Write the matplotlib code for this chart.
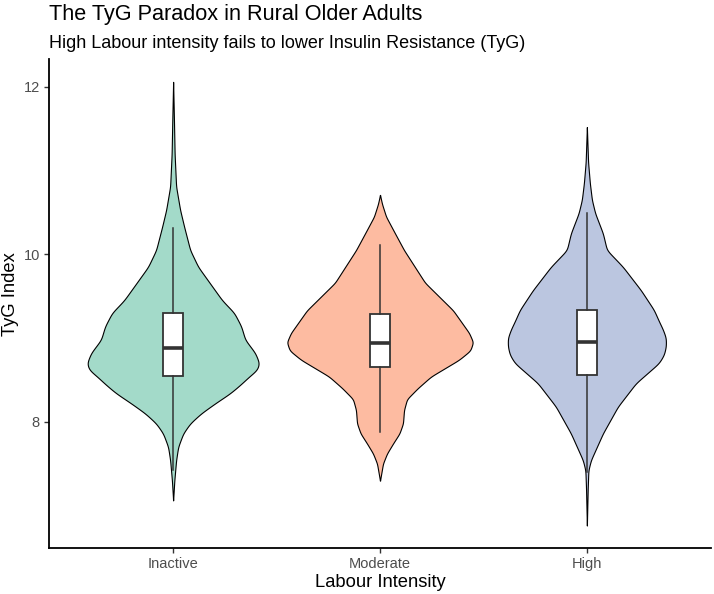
import numpy as np
import matplotlib
matplotlib.use("Agg")
import matplotlib.pyplot as plt

# ---------------- data ----------------
groups = ["Inactive", "Moderate", "High"]
fill_colors = ["#A3DAC9", "#FDBBA1", "#BBC6E0"]

# violin profiles: TyG level and relative density (1 = widest violin)
inactive_levels = [7.06, 7.30, 7.54, 7.70, 7.86, 7.98, 8.10, 8.22, 8.34, 8.44, 8.54, 8.62, 8.70,
                   8.82, 8.98, 9.14, 9.30, 9.45, 9.65, 9.85, 10.05, 10.33, 10.53, 10.81, 11.20,
                   11.60, 12.06]
inactive_density = [0.0, 0.013, 0.032, 0.054, 0.108, 0.183, 0.301, 0.452, 0.613, 0.720, 0.817,
                    0.903, 0.925, 0.882, 0.774, 0.731, 0.656, 0.527, 0.398, 0.269, 0.183,
                    0.118, 0.075, 0.032, 0.016, 0.009, 0.0]

moderate_levels = [7.295, 7.50, 7.62, 7.74, 7.86, 7.98, 8.14, 8.27, 8.40, 8.54, 8.74, 8.85,
                   8.95, 9.06, 9.33, 9.66, 10.05, 10.25, 10.45, 10.60, 10.71]
moderate_density = [0.0, 0.032, 0.075, 0.140, 0.209, 0.247, 0.258, 0.290, 0.405, 0.548, 0.849,
                    0.97, 1.0, 0.957, 0.785, 0.484, 0.258, 0.161, 0.065, 0.022, 0.0]

high_levels = [6.76, 7.20, 7.42, 7.54, 7.86, 8.18, 8.46, 8.70, 8.80, 8.90, 9.00, 9.10, 9.20,
               9.335, 9.57, 9.85, 10.05, 10.25, 10.49, 10.65, 10.85, 11.10, 11.52]
high_density = [0.0, 0.009, 0.016, 0.043, 0.172, 0.333, 0.527, 0.774, 0.828, 0.849, 0.849,
                0.817, 0.774, 0.720, 0.581, 0.387, 0.215, 0.172, 0.089, 0.054, 0.032, 0.013,
                0.0]

# box plot statistics
box_q1 = [8.546, 8.657, 8.558]
box_med = [8.877, 8.937, 8.949]
box_q3 = [9.300, 9.287, 9.335]
box_whislo = [7.42, 7.88, 7.40]
box_whishi = [10.31, 10.11, 10.49]

title = "The TyG Paradox in Rural Older Adults"
subtitle = "High Labour intensity fails to lower Insulin Resistance (TyG)"
xlabel = "Labour Intensity"
ylabel = "TyG Index"
yticks = [8, 10, 12]

# ---------------- drawing ----------------
plt.rcParams["font.family"] = ["Liberation Sans", "DejaVu Sans"]

W, H = 714, 594
fig = plt.figure(figsize=(W / 100, H / 100), dpi=100)
ax = fig.add_axes([49 / W, 1 - 547.7 / H, (711 - 49) / W, (547.7 - 59) / H])

profiles = [(inactive_levels, inactive_density),
            (moderate_levels, moderate_density),
            (high_levels, high_density)]

max_half = 0.45
for i, (lev, dens) in enumerate(profiles):
    pos = i + 1
    lev = np.asarray(lev, float)
    dens = np.asarray(dens, float)
    yy = np.linspace(lev[0], lev[-1], 800)
    ww = np.interp(yy, lev, dens)
    # light smoothing of the outline for rendering
    k = np.exp(-0.5 * (np.arange(-12, 13) / 5.0) ** 2)
    k /= k.sum()
    padded = np.concatenate([np.zeros(12), ww, np.zeros(12)])
    ww = np.convolve(padded, k, mode="same")[12:-12]
    ww[0] = ww[-1] = 0
    half = ww * max_half
    ax.fill_betweenx(yy, pos - half, pos + half, facecolor=fill_colors[i],
                     edgecolor="black", linewidth=0.8, zorder=2)

stats = []
for i, g in enumerate(groups):
    stats.append(dict(label=g, med=box_med[i], q1=box_q1[i], q3=box_q3[i],
                      whislo=box_whislo[i], whishi=box_whishi[i], fliers=[]))
line_col = "#333333"
ax.bxp(stats, positions=[1, 2, 3], widths=0.1, patch_artist=True, showcaps=False,
       showfliers=False,
       boxprops=dict(facecolor="white", edgecolor=line_col, linewidth=1.3),
       whiskerprops=dict(color=line_col, linewidth=1.1),
       medianprops=dict(color=line_col, linewidth=2.6, solid_capstyle="butt"),
       zorder=3)

ax.set_xlim(0.4, 3.6)
ax.set_ylim(6.495, 12.333)
ax.set_xticks([1, 2, 3])
ax.set_xticklabels(groups)
ax.set_yticks(yticks)
ax.set_yticklabels([str(t) for t in yticks])

for s in ["top", "right"]:
    ax.spines[s].set_visible(False)
for s in ["left", "bottom"]:
    ax.spines[s].set_linewidth(1.3)
    ax.spines[s].set_color("black")
ax.tick_params(axis="both", direction="out", length=3.5, width=1.0, color="#333333",
               labelcolor="#4D4D4D", labelsize=10.5, pad=3)

ax.set_xlabel(xlabel, fontsize=13.2, color="black", labelpad=2)
ax.set_ylabel(ylabel, fontsize=13.2, color="black")
ax.yaxis.set_label_coords((19 - 49) / 662, 0.52)

fig.text(49 / W, 1 - 20 / H, title, fontsize=15.6, color="black", ha="left", va="baseline")
fig.text(49 / W, 1 - 48 / H, subtitle, fontsize=13.0, color="black", ha="left", va="baseline")

fig.savefig("out.png", dpi=100, facecolor="white")
